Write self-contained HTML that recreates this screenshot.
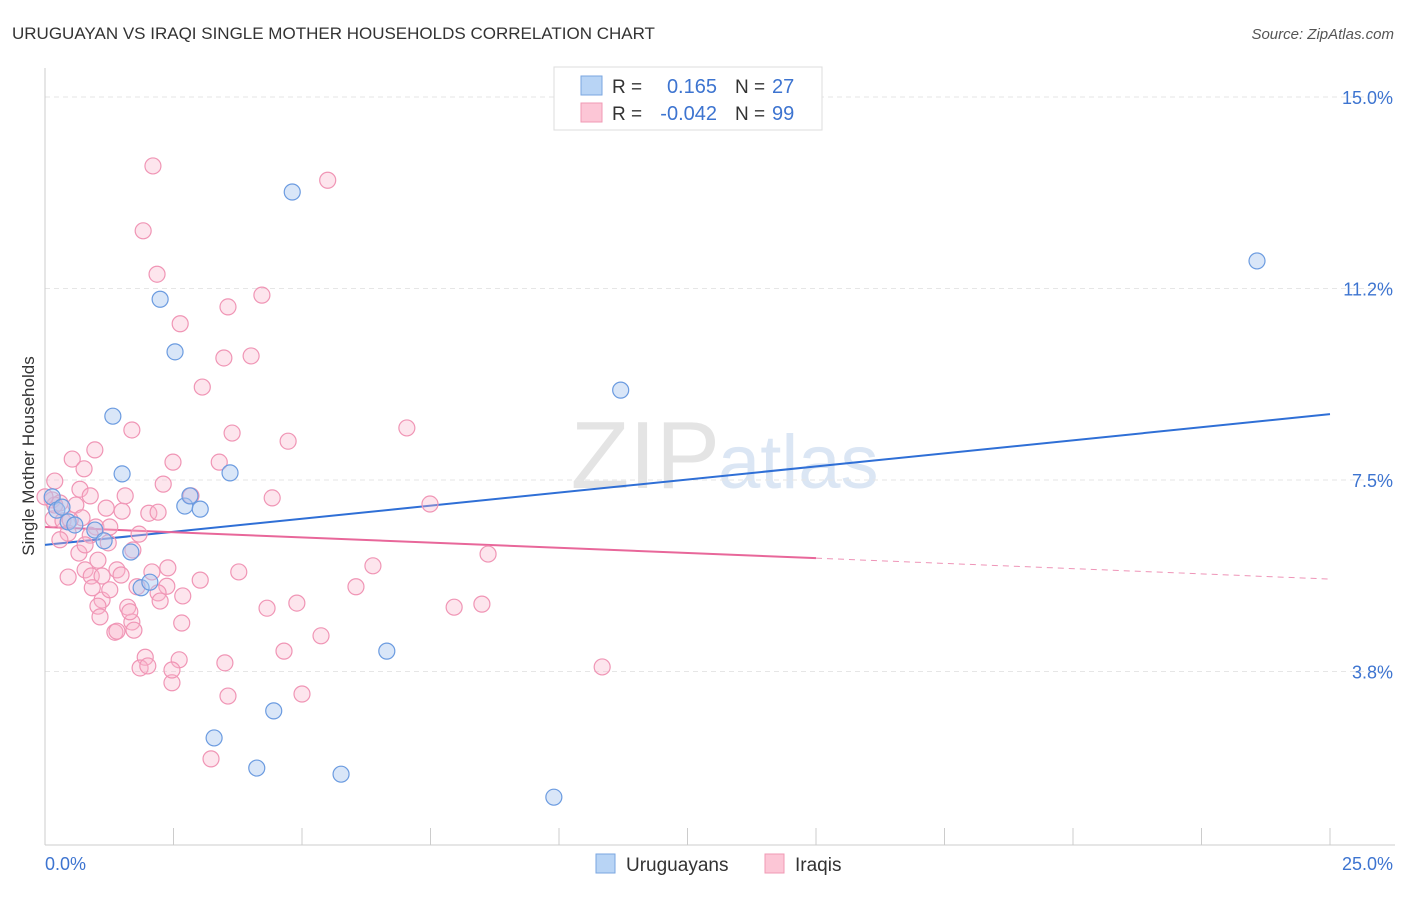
<!DOCTYPE html>
<html><head><meta charset="utf-8"><style>
body{margin:0;background:#fff;font-family:"Liberation Sans",sans-serif}
svg text{font-family:"Liberation Sans",sans-serif}
</style></head><body>
<svg id="chart" width="1406" height="892" xmlns="http://www.w3.org/2000/svg">
<text x="12" y="39" font-size="17" fill="#333">URUGUAYAN VS IRAQI SINGLE MOTHER HOUSEHOLDS CORRELATION CHART</text>
<text x="1394" y="39" font-size="15" fill="#555" font-style="italic" text-anchor="end">Source: ZipAtlas.com</text>
<text transform="translate(34,456) rotate(-90)" font-size="17" fill="#333" text-anchor="middle">Single Mother Households</text>
<text x="720" y="488" font-size="96" fill="#e4e4e4" text-anchor="end" font-family="Liberation Serif">ZIP</text>
<text x="718" y="488" font-size="76" fill="#dbe6f4">atlas</text>
<g id="grid"></g><g id="axes"></g><g id="lines"></g><g id="pts"></g>
<g>
<rect x="554" y="67" width="268" height="63" fill="#fff" stroke="#ddd"/>
<rect x="581" y="76" width="21" height="19" fill="#b8d4f5" stroke="#7aa6e0"/>
<rect x="581" y="103" width="21" height="19" fill="#fcc6d6" stroke="#f09ab4"/>
<text x="612" y="93" font-size="19" fill="#333">R = </text><text x="717" y="93" font-size="20" fill="#3d74d0" text-anchor="end">0.165</text>
<text x="735" y="93" font-size="19" fill="#333">N = </text><text x="772" y="93" font-size="20" fill="#3d74d0">27</text>
<text x="612" y="120" font-size="19" fill="#333">R = </text><text x="717" y="120" font-size="20" fill="#3d74d0" text-anchor="end">-0.042</text>
<text x="735" y="120" font-size="19" fill="#333">N = </text><text x="772" y="120" font-size="20" fill="#3d74d0">99</text>
</g>
<g>
<rect x="596" y="854" width="19" height="19" fill="#b8d4f5" stroke="#7aa6e0"/>
<text x="626" y="871" font-size="19" fill="#333">Uruguayans</text>
<rect x="765" y="854" width="19" height="19" fill="#fcc6d6" stroke="#f09ab4"/>
<text x="795" y="871" font-size="19" fill="#333">Iraqis</text>
</g>
</svg>
<script>
const yTicks=[15.0,11.25,7.5,3.75];
const yTickLabels=["15.0%","11.2%","7.5%","3.8%"];
const xTickLabels=["0.0%","25.0%"];
const blueX=[0.14,0.23,0.33,0.45,0.58,0.97,1.15,1.32,1.5,1.67,1.87,2.04,2.24,2.53,2.72,2.82,3.02,3.29,3.6,4.12,4.45,4.81,5.76,6.65,9.9,11.2,23.58];
const blueY=[7.17,6.91,6.97,6.68,6.62,6.52,6.31,8.75,7.62,6.09,5.39,5.50,11.04,10.01,6.99,7.19,6.93,2.45,7.64,1.86,2.98,13.14,1.74,4.15,1.29,9.26,11.79];
const pinkX=[2.1,5.5,1.91,2.18,4.22,3.56,2.63,3.48,4.01,3.06,1.69,3.64,4.73,7.04,0.53,2.49,3.39,0.76,0.19,0.68,2.3,0.14,0.88,1.56,2.84,4.42,7.49,0.29,0.6,1.19,1.5,2.02,2.2,0.16,0.35,0.72,0.99,1.26,0.45,0.88,0.29,1.23,1.83,0.66,1.03,1.71,8.62,0.78,1.4,2.39,3.77,6.38,0.45,0.9,1.11,2.08,2.37,1.48,0.92,1.79,2.2,2.68,6.05,1.11,1.03,1.61,4.32,4.9,7.96,8.5,1.07,1.69,2.66,1.36,1.4,1.73,5.37,1.95,2.61,4.65,3.5,1.85,2.0,10.84,2.47,3.56,5.0,3.23,2.47,0.19,0.49,0.0,2.24,1.65,0.78,1.26,3.02,0.97];
const pinkY=[13.65,13.37,12.38,11.53,11.12,10.89,10.56,9.89,9.93,9.32,8.48,8.42,8.26,8.52,7.91,7.85,7.85,7.72,7.48,7.32,7.42,7.11,7.19,7.19,7.19,7.15,7.03,7.05,7.01,6.95,6.89,6.85,6.87,6.74,6.70,6.76,6.58,6.58,6.46,6.42,6.33,6.27,6.44,6.07,5.93,6.13,6.05,5.74,5.74,5.78,5.70,5.82,5.60,5.62,5.62,5.70,5.42,5.64,5.39,5.41,5.29,5.23,5.41,5.15,5.03,5.01,4.99,5.09,5.01,5.07,4.82,4.72,4.70,4.52,4.54,4.56,4.45,4.03,3.98,4.15,3.92,3.82,3.86,3.84,3.53,3.27,3.31,2.04,3.78,7.01,6.72,7.17,5.13,4.92,6.23,5.35,5.54,8.09];
const blueLine=[6.23,8.79];
const pinkLine=[6.58,5.97,5.56];
const pinkSolidEnd=15;
const NS="http://www.w3.org/2000/svg";
const xs=v=>45+v*51.4, ys=v=>97+(15-v)*51.07;
function mk(t,a,p){const e=document.createElementNS(NS,t);for(const k in a)e.setAttribute(k,a[k]);document.getElementById(p).appendChild(e);return e;}
yTicks.forEach((t,i)=>{
 const g=mk('line',{x1:45,x2:1395,y1:ys(t),y2:ys(t),stroke:'#e6e6e6','stroke-dasharray':'5,4'},'grid');
 
 
 const l=mk('text',{x:1393,y:ys(t)+7,'font-size':18,fill:'#3d74d0','text-anchor':'end'},'axes');l.textContent=yTickLabels[i];
 
 
});
mk('line',{x1:45,x2:45,y1:68,y2:845,stroke:'#ccc'},'axes');
mk('line',{x1:45,x2:1395,y1:845,y2:845,stroke:'#ccc'},'axes');
for(let i=0;i<=10;i++){const t=mk('line',{x1:xs(i*2.5),x2:xs(i*2.5),y1:828,y2:845,stroke:'#ccc'},'axes');
 
 }
[[0,45,'start'],[25,1393,'end']].forEach((d,i)=>{const l=mk('text',{x:d[1],y:870,'font-size':18,fill:'#3d74d0','text-anchor':d[2]},'axes');l.textContent=xTickLabels[i];
 
 });
const bl=mk('line',{x1:xs(0),y1:ys(blueLine[0]),x2:xs(25),y2:ys(blueLine[1]),stroke:'#2f6fd6','stroke-width':2},'lines');


const pl=mk('line',{x1:xs(0),y1:ys(pinkLine[0]),x2:xs(pinkSolidEnd),y2:ys(pinkLine[1]),stroke:'#e8679a','stroke-width':2},'lines');


const pd=mk('line',{x1:xs(pinkSolidEnd),y1:ys(pinkLine[1]),x2:xs(25),y2:ys(pinkLine[2]),stroke:'#e8679a','stroke-width':1,'stroke-dasharray':'6,5',opacity:0.7},'lines');


pinkX.forEach((x,i)=>{const c=mk('circle',{cx:xs(x),cy:ys(pinkY[i]),r:8,fill:'rgba(248,180,204,0.35)',stroke:'#f095b5','stroke-width':1.2},'pts');
 
 });
blueX.forEach((x,i)=>{const c=mk('circle',{cx:xs(x),cy:ys(blueY[i]),r:8,fill:'rgba(170,200,240,0.45)',stroke:'#6b9be0','stroke-width':1.2},'pts');
 
 });
</script>
</body></html>
